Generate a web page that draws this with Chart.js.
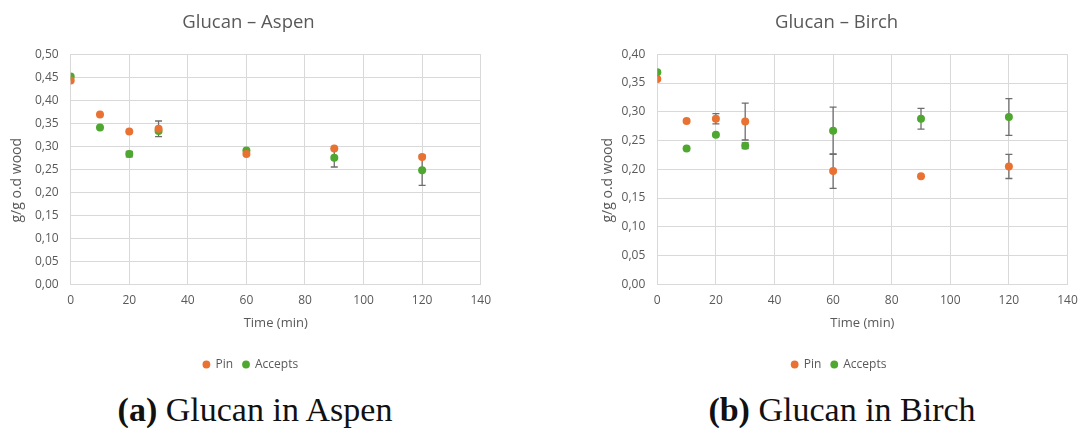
<!DOCTYPE html>
<html>
<head>
<meta charset="utf-8">
<script src="https://cdn.jsdelivr.net/npm/chart.js@4.4.1/dist/chart.umd.min.js"></script>
<style>
  html,body{margin:0;padding:0;background:#fff;width:1078px;height:428px;overflow:hidden;position:relative;}
  .wrap{position:absolute;top:0;}
  .cap{position:absolute;top:391px;font-family:"Liberation Serif","DejaVu Serif",serif;font-size:34px;color:#111;white-space:nowrap;transform:translateX(-50%);}
  .cap b{font-weight:bold;}
</style>
</head>
<body>
<div class="wrap" style="left:0px;width:500px;height:384px;"><canvas id="c1"></canvas></div>
<div class="wrap" style="left:596px;width:494px;height:384px;"><canvas id="c2"></canvas></div>
<div class="cap" style="left:255px;"><b>(a)</b> Glucan in Aspen</div>
<div class="cap" style="left:842px;"><b>(b)</b> Glucan in Birch</div>
<script>
// ---- data ----
const times = [0, 10, 20, 30, 60, 90, 120];
const xTicks = [0, 20, 40, 60, 80, 100, 120, 140];

const aspenPin        = [0.443, 0.369, 0.332, 0.338, 0.283, 0.295, 0.277];
const aspenPinErr     = [0,     0,     0,     0.017, 0,     0,     0];
const aspenAccepts    = [0.452, 0.341, 0.283, 0.333, 0.291, 0.275, 0.248];
const aspenAcceptsErr = [0,     0,     0.006, 0,     0,     0.020, 0.033];

const birchPin        = [0.357, 0.284, 0.288, 0.283, 0.197, 0.188, 0.205];
const birchPinErr     = [0,     0,     0.009, 0.032, 0.030, 0,     0.021];
const birchAccepts    = [0.369, 0.236, 0.260, 0.241, 0.267, 0.288, 0.291];
const birchAcceptsErr = [0,     0,     0,     0.005, 0.041, 0.018, 0.032];

const ORANGE = '#E97132';
const GREEN  = '#4EA72E';
const TXT = '#595959';
const GRID = '#d9d9d9';
const FONT = '"Open Sans", "Liberation Sans", sans-serif';

const errorBars = {
  id: 'errorBars',
  beforeDatasetsDraw(chart) {
    const {ctx, scales: {x, y}} = chart;
    ctx.save();
    ctx.strokeStyle = '#6e6e6e';
    ctx.lineWidth = 1.3;
    chart.data.datasets.forEach((ds, i) => {
      if (!chart.isDatasetVisible(i) || !ds.errors) return;
      ds.data.forEach((p, j) => {
        const e = ds.errors[j];
        if (!e) return;
        const px = x.getPixelForValue(p.x);
        const t = y.getPixelForValue(p.y + e);
        const b = y.getPixelForValue(p.y - e);
        ctx.beginPath();
        ctx.moveTo(px, t); ctx.lineTo(px, b);
        ctx.moveTo(px - 3.5, t); ctx.lineTo(px + 3.5, t);
        ctx.moveTo(px - 3.5, b); ctx.lineTo(px + 3.5, b);
        ctx.stroke();
      });
    });
    ctx.restore();
  }
};

// nudges the title and legend boxes horizontally after layout
const boxShift = {
  id: 'boxShift',
  afterLayout(chart, args, opts) {
    if (chart.titleBlock && opts.title) { chart.titleBlock.left += opts.title; chart.titleBlock.right += opts.title; }
    if (chart.legend && opts.legend) { chart.legend.left += opts.legend; chart.legend.right += opts.legend; }
  }
};

function pts(vals) { return times.map((t, i) => ({x: t, y: vals[i]})); }

function makeChart(id, title, pin, pinErr, acc, accErr, yMax, padLeft, yWidth, padRight, tShift, lShift) {
  return new Chart(document.getElementById(id), {
    type: 'scatter',
    data: {
      datasets: [
        {label: 'Pin', data: pts(pin), errors: pinErr, backgroundColor: ORANGE, borderColor: ORANGE, pointRadius: 4, pointHoverRadius: 4, borderWidth: 0},
        {label: 'Accepts', data: pts(acc), errors: accErr, backgroundColor: GREEN, borderColor: GREEN, pointRadius: 4, pointHoverRadius: 4, borderWidth: 0}
      ]
    },
    options: {
      responsive: true,
      maintainAspectRatio: false,
      animation: false,
      layout: {padding: {left: padLeft, right: padRight, top: 0, bottom: 3.5}},
      plugins: {
        boxShift: {title: tShift, legend: lShift},
        title: {display: true, text: title, color: TXT, font: {family: FONT, size: 18.5, weight: 'normal'}, padding: {top: 11.4, bottom: 20.7}},
        legend: {
          position: 'bottom',
          labels: {color: TXT, font: {family: FONT, size: 12}, usePointStyle: true, pointStyle: 'circle', boxWidth: 6, boxHeight: 5.5, padding: 10}
        },
        tooltip: {enabled: false}
      },
      scales: {
        x: {
          type: 'linear', min: 0, max: 140,
          afterBuildTicks: s => { s.ticks = xTicks.map(v => ({value: v})); },
          afterFit: s => { s.height = 64.2; },
          grid: {color: GRID, drawTicks: false},
          border: {color: GRID},
          ticks: {color: TXT, font: {family: FONT, size: 12}, padding: 9},
          title: {display: true, text: 'Time (min)', color: TXT, font: {family: FONT, size: 13}, padding: {top: 4, bottom: 17}}
        },
        y: {
          min: 0, max: yMax,
          afterFit: s => { s.width = yWidth; },
          grid: {color: GRID, drawTicks: false},
          border: {color: GRID},
          ticks: {stepSize: 0.05, color: TXT, font: {family: FONT, size: 12}, padding: 12,
                  callback: v => v.toFixed(2).replace('.', ',')},
          title: {display: true, text: 'g/g o.d wood      ', color: TXT, font: {family: FONT, size: 14}, padding: {top: 0, bottom: 0}}
        }
      }
    },
    plugins: [errorBars, boxShift]
  });
}

makeChart('c1', 'Glucan – Aspen', aspenPin, aspenPinErr, aspenAccepts, aspenAcceptsErr, 0.5, 8.6, 62.1, 19, 3.7, 6);
makeChart('c2', 'Glucan – Birch', birchPin, birchPinErr, birchAccepts, birchAcceptsErr, 0.4, 3.6, 57.7, 22.5, 3, 5.5);
</script>
</body>
</html>
